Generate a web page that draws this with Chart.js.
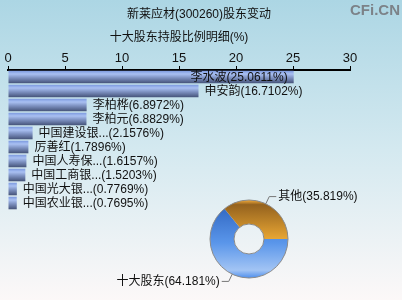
<!DOCTYPE html>
<html>
<head>
<meta charset="utf-8">
<script src="https://cdn.jsdelivr.net/npm/chart.js@4.4.1/dist/chart.umd.min.js"></script>
<style>
  html, body { margin: 0; padding: 0; }
  body {
    width: 402px; height: 300px; overflow: hidden; position: relative;
    background: linear-gradient(to bottom, #acd6e4 0%, #d4e9f0 50%, #fcf8f8 100%);
  }
  #barCanvas { position: absolute; left: 0; top: 0; }
  #pieCanvas { position: absolute; left: 100px; top: 180px; }
</style>
</head>
<body>
<canvas id="barCanvas" width="402" height="300"></canvas>
<canvas id="pieCanvas" width="302" height="120"></canvas>
<script>
"use strict";
const FONT = '"Liberation Sans", "Noto Sans CJK SC", sans-serif';

// top ten holders
const holderNames = ["李水波", "申安韵", "李柏桦", "李柏元", "中国建设银...", "厉善红", "中国人寿保...", "中国工商银...", "中国光大银...", "中国农业银..."];
const holderValues = [25.0611, 16.7102, 6.8972, 6.8829, 2.1576, 1.7896, 1.6157, 1.5203, 0.7769, 0.7695];
const xTicks = [0, 5, 10, 15, 20, 25, 30];

// share of top ten vs others
const pieNames = ["十大股东", "其他"];
const pieValues = [64.181, 35.819];

const mainTitle = "新莱应材(300260)股东变动";
const subTitle = "十大股东持股比例明细(%)";

//titles, watermark and bar labels
const barTexts = {
  id: "barTexts",
  afterDraw(chart) {
    const c = chart.ctx;
    c.save();
    c.fillStyle = "#111";
    c.font = "12px " + FONT;
    c.textAlign = "center";
    c.textBaseline = "middle";
    c.fillText(mainTitle, 199, 15);
    c.fillText(subTitle, 179, 38);

    c.font = "bold 15px " + FONT;
    c.fillStyle = "#7c8288";
    c.textAlign = "right";
    c.fillText("CFi.CN", 400, 11);

    c.font = "12px " + FONT;
    c.fillStyle = "#111";
    c.textAlign = "left";
    const meta = chart.getDatasetMeta(0);
    meta.data.forEach((bar, i) => {
      const txt = holderNames[i] + "(" + holderValues[i].toFixed(4) + "%)";
      const w = c.measureText(txt).width;
      let x = bar.x + 6;
      if (x + w > chart.chartArea.right) x = bar.x - 6 - w;
      c.fillText(txt, x, bar.y + 1);
    });
    c.restore();
  },
};

function barFill(ctx) {
  const chart = ctx.chart;
  const y = chart.scales.y;
  if (!y || ctx.dataIndex === undefined) return "#8aa2dc";
  const mid = y.getPixelForValue(ctx.dataIndex);
  if (!isFinite(mid)) return "#8aa2dc";
  const g = chart.ctx.createLinearGradient(0, mid - 6, 0, mid + 6);
  g.addColorStop(0, "#7f9ce0");
  g.addColorStop(0.25, "#a9c0f2");
  g.addColorStop(0.55, "#8094c4");
  g.addColorStop(1, "#47567c");
  return g;
}

new Chart(document.getElementById("barCanvas"), {
  type: "bar",
  data: {
    labels: holderNames,
    datasets: [
      {
        data: holderValues,
        backgroundColor: barFill,
        borderWidth: 0,
        barPercentage: 0.9,
        categoryPercentage: 1,
      },
    ],
  },
  options: {
    indexAxis: "y",
    responsive: false,
    animation: false,
    layout: { padding: { left: 8, right: 52, top: 50, bottom: 90 } },
    plugins: { legend: { display: false }, tooltip: { enabled: false } },
    scales: {
      x: {
        position: "top",
        min: 0,
        max: 30,
        afterFit: (s) => { s.height = 20; },
        afterBuildTicks: (s) => { s.ticks = xTicks.map((v) => ({ value: v })); },
        ticks: { color: "#111", padding: 0, font: { size: 13, family: FONT } },
        grid: { drawOnChartArea: false, tickLength: 4, color: "#000", lineWidth: 1 },
        border: { display: true, color: "#000", width: 2 },
      },
      y: { display: false },
    },
  },
  plugins: [barTexts],
});

//doughnut with leader labels
function ringFill(ctx) {
  const area = ctx.chart.chartArea;
  if (!area || !isFinite(area.top) || !isFinite(area.height)) return "#4a88e4";
  const c = ctx.chart.ctx;
  const top = area.top + area.height / 2 - 39;
  const g = c.createLinearGradient(0, top, 0, top + 78);
  if (ctx.dataIndex === 0) {
    g.addColorStop(0, "#2a60bc");
    g.addColorStop(0.55, "#5a96ea");
    g.addColorStop(0.9, "#a2c4f4");
    g.addColorStop(1, "#4e8eec");
  } else {
    g.addColorStop(0, "#f6ae3c");
    g.addColorStop(0.06, "#94621e");
    g.addColorStop(0.5, "#e8a634");
  }
  return g;
}

const pieTexts = {
  id: "pieTexts",
  afterDraw(chart) {
    const c = chart.ctx;
    const meta = chart.getDatasetMeta(0);
    c.save();
    const a0 = meta.data[0];
    c.strokeStyle = "#8a8a8a";
    c.lineWidth = 1;
    c.beginPath();
    c.arc(a0.x, a0.y, a0.outerRadius, 0, Math.PI * 2);
    c.stroke();
    c.beginPath();
    c.arc(a0.x, a0.y, a0.innerRadius, 0, Math.PI * 2);
    c.stroke();

    c.font = "12px " + FONT;
    c.textBaseline = "middle";
    meta.data.forEach((arc, i) => {
      const mid = (arc.startAngle + arc.endAngle) / 2;
      const cos = Math.cos(mid), sin = Math.sin(mid);
      const x1 = arc.x + cos * arc.outerRadius, y1 = arc.y + sin * arc.outerRadius;
      const x2 = arc.x + cos * (arc.outerRadius + 8), y2 = arc.y + sin * (arc.outerRadius + 8);
      const dir = cos >= 0 ? 1 : -1;
      const x3 = x2 + dir * 7;
      c.strokeStyle = "#777";
      c.beginPath();
      c.moveTo(x1, y1);
      c.lineTo(x2, y2);
      c.lineTo(x3, y2);
      c.stroke();
      c.fillStyle = "#111";
      c.textAlign = dir > 0 ? "left" : "right";
      c.fillText(pieNames[i] + "(" + pieValues[i].toFixed(3) + "%)", x3 + dir * 2, y2);
    });
    c.restore();
  },
};

new Chart(document.getElementById("pieCanvas"), {
  type: "doughnut",
  data: {
    labels: pieNames,
    datasets: [{ data: pieValues, backgroundColor: ringFill, borderWidth: 0 }],
  },
  options: {
    responsive: false,
    animation: false,
    rotation: 90,
    radius: 39,
    cutout: 15,
    layout: { padding: { left: 110, right: 114, top: 20, bottom: 22 } },
    plugins: { legend: { display: false }, tooltip: { enabled: false } },
  },
  plugins: [pieTexts],
});
</script>
</body>
</html>
